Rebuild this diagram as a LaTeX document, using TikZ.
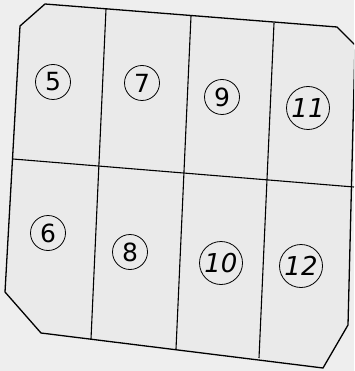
\documentclass[tikz,border=0pt]{standalone}
\usepackage{fontspec}
\setmainfont{DejaVu Sans}
\usepackage{xcolor}
\definecolor{paper}{RGB}{238,238,238}
\definecolor{sheet}{RGB}{234,234,234}

\begin{document}
\begin{tikzpicture}[x=1pt, y=-1pt,
    lot/.style={draw, circle, line width=0.8pt, inner sep=0pt, minimum size=35pt, font=\fontsize{25}{25}\selectfont},
    biglot/.style={lot, minimum size=43pt, font=\fontsize{26}{26}\selectfont\itshape}]
    % paper
    \fill[paper] (0,0) rectangle (354,371);
    \useasboundingbox (0,0) rectangle (354,371);

    % outline corners
    \coordinate (tl1) at (45,4);
    \coordinate (tl2) at (20,26);
    \coordinate (bl1) at (5,292);
    \coordinate (bl2) at (41,333);
    \coordinate (br1) at (323,368);
    \coordinate (br2) at (348,325);
    \coordinate (tr1) at (355,45);
    \coordinate (tr2) at (337,27);

    % outline
    \begin{scope}
        \clip (0,0) rectangle (354,371);
        \draw[line width=1.3pt, fill=sheet] (tl1) -- (tl2) -- (bl1) -- (bl2) -- (br1) -- (br2) -- (tr1) -- (tr2) -- cycle;
    \end{scope}

    % dividers
    \coordinate (d1t) at (106,9);   \coordinate (d1b) at (91,339);
    \coordinate (d2t) at (191,16);  \coordinate (d2b) at (176,349);
    \coordinate (d3t) at (274,23);  \coordinate (d3b) at (259,358);
    \coordinate (ml) at (13,159);   \coordinate (mr) at (354,187);
    \draw[line width=1.1pt] (d1t) -- (d1b);
    \draw[line width=1.1pt] (d2t) -- (d2b);
    \draw[line width=1.1pt] (d3t) -- (d3b);
    \draw[line width=1.1pt] (ml) -- (mr);

    % lot numbers
    \node[lot] (n5) at (53,82) {5};
    \node[lot] (n7) at (142,83) {7};
    \node[lot] (n9) at (222,97) {9};
    \node[biglot] (n11) at (308,108) {11};
    \node[lot] (n6) at (48,233) {6};
    \node[lot] (n8) at (130,252) {8};
    \node[biglot] (n10) at (221,263) {10};
    \node[biglot] (n12) at (301,266) {12};
\end{tikzpicture}
\end{document}
